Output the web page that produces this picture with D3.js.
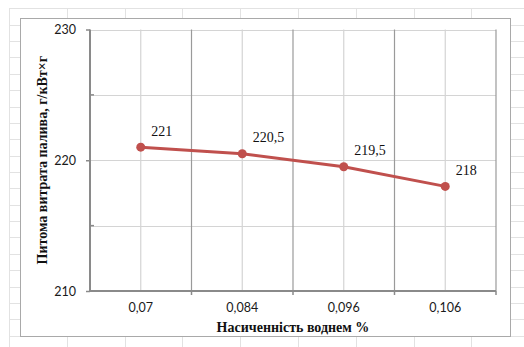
<!DOCTYPE html>
<html><head><meta charset="utf-8">
<script src="https://cdn.jsdelivr.net/npm/d3@7"></script>
<style>html,body{margin:0;padding:0;background:#fff;}svg{display:block;}</style>
</head><body>
<script>
const categories = ["0,07", "0,084", "0,096", "0,106"];
const values = [221, 220.5, 219.5, 218];
const valueLabels = ["221", "220,5", "219,5", "218"];
const yTicks = [210, 220, 230];
const yMinorTicks = [215, 225];
const xTitle = "Насиченність воднем %";
const yTitle = "Питома витрата палива, г/кВт×г";

const W = 524, H = 347;
const svg = d3.select("body").append("svg").attr("width", W).attr("height", H);

// spreadsheet background grid
const sheet = svg.append("g");
const colX = d3.range(9, W + 60, 57.8);
const rowY = d3.range(8.3, H + 20, 16.37);
sheet.selectAll("line.c").data(colX).enter().append("line")
  .attr("x1", d => Math.round(d) + 0.5).attr("x2", d => Math.round(d) + 0.5)
  .attr("y1", 8).attr("y2", H).attr("stroke", "#e2e2e2").attr("stroke-width", 1);
sheet.selectAll("line.r").data(rowY).enter().append("line")
  .attr("x1", 9).attr("x2", W).attr("y1", d => Math.round(d) + 0.5).attr("y2", d => Math.round(d) + 0.5)
  .attr("stroke", "#e2e2e2").attr("stroke-width", 1);

// chart area
svg.append("rect").attr("x", 20.5).attr("y", 18.5).attr("width", 490).attr("height", 318)
  .attr("fill", "#fff").attr("stroke", "#a9a9a9").attr("stroke-width", 1);

const plot = {l: 90, r: 496, t: 29.5, b: 291};
const x = d3.scaleBand().domain(categories).range([plot.l, plot.r]).padding(0);
const y = d3.scaleLinear().domain([210, 230]).range([plot.b, plot.t]);

// horizontal gridlines (major + minor)
svg.append("g").selectAll("line").data(yTicks.concat(yMinorTicks).filter(d => d !== 210)).enter().append("line")
  .attr("x1", plot.l).attr("x2", plot.r)
  .attr("y1", d => Math.round(y(d)) + 0.5).attr("y2", d => Math.round(y(d)) + 0.5)
  .attr("stroke", "#d4d4d4").attr("stroke-width", 1.2);

// vertical gridlines: light at category centers, darker at boundaries
svg.append("g").selectAll("line").data(categories).enter().append("line")
  .attr("x1", d => x(d) + x.bandwidth() / 2).attr("x2", d => x(d) + x.bandwidth() / 2)
  .attr("y1", plot.t).attr("y2", plot.b).attr("stroke", "#d4d4d4").attr("stroke-width", 1.2);
svg.append("g").selectAll("line").data(categories).enter().append("line")
  .attr("x1", d => x(d) + x.bandwidth()).attr("x2", d => x(d) + x.bandwidth())
  .attr("y1", plot.t).attr("y2", plot.b).attr("stroke", "#9a9a9a").attr("stroke-width", 1.2);

// y axis
const yAxis = svg.append("g").attr("transform", `translate(${plot.l},0)`)
  .call(d3.axisLeft(y).tickValues(yTicks).tickSize(4).tickPadding(10).tickFormat(d3.format("d")));
yAxis.select(".domain").attr("stroke", "#8a8a8a").attr("stroke-width", 2).attr("d", `M0,${plot.t}V${plot.b}`);
yAxis.selectAll(".tick line").attr("stroke", "#8a8a8a").attr("stroke-width", 1.5);
yAxis.selectAll("text").attr("font-family", "Lato, sans-serif").attr("font-size", 12.5).attr("fill", "#1a1a1a");
// minor ticks (inside)
svg.append("g").selectAll("line").data(yMinorTicks).enter().append("line")
  .attr("x1", plot.l).attr("x2", plot.l + 4).attr("y1", d => y(d)).attr("y2", d => y(d))
  .attr("stroke", "#8a8a8a").attr("stroke-width", 1.5);

// x axis
const xAxis = svg.append("g").attr("transform", `translate(0,${plot.b})`)
  .call(d3.axisBottom(x).tickSize(0).tickPadding(12));
xAxis.select(".domain").attr("stroke", "#8a8a8a").attr("stroke-width", 2).attr("d", `M${plot.l},0H${plot.r}`);
xAxis.selectAll("text").attr("font-family", "Lato, sans-serif").attr("font-size", 12.5).attr("fill", "#1a1a1a");
svg.append("g").selectAll("line").data(categories).enter().append("line")
  .attr("x1", d => x(d) + x.bandwidth()).attr("x2", d => x(d) + x.bandwidth())
  .attr("y1", plot.b).attr("y2", plot.b + 4).attr("stroke", "#8a8a8a").attr("stroke-width", 1.5);

// series
const pts = categories.map((c, i) => ({c, v: values[i], label: valueLabels[i]}));
svg.append("path").datum(pts)
  .attr("d", d3.line().x(d => x(d.c) + x.bandwidth() / 2).y(d => y(d.v)))
  .attr("fill", "none").attr("stroke", "#C0504D").attr("stroke-width", 3).attr("stroke-linejoin", "round");
svg.append("g").selectAll("circle").data(pts).enter().append("circle")
  .attr("cx", d => x(d.c) + x.bandwidth() / 2).attr("cy", d => y(d.v)).attr("r", 4.5)
  .attr("fill", "#C0504D");
svg.append("g").selectAll("text").data(pts).enter().append("text")
  .attr("x", d => x(d.c) + x.bandwidth() / 2 + 10.5).attr("y", d => y(d.v) - 11.5)
  .attr("font-family", "'Liberation Serif', 'Times New Roman', serif").attr("font-size", 14)
  .attr("fill", "#111").text(d => d.label);

// titles
svg.append("text").attr("x", (plot.l + plot.r) / 2).attr("y", 332)
  .attr("text-anchor", "middle").attr("font-family", "'Liberation Serif', 'Times New Roman', serif")
  .attr("font-weight", "bold").attr("font-size", 14).attr("fill", "#111").text(xTitle);
svg.append("text").attr("transform", `translate(47,${(plot.t + plot.b) / 2}) rotate(-90)`)
  .attr("text-anchor", "middle").attr("font-family", "'Liberation Serif', 'Times New Roman', serif")
  .attr("font-weight", "bold").attr("font-size", 14).attr("fill", "#111").text(yTitle);
</script>
</body></html>
